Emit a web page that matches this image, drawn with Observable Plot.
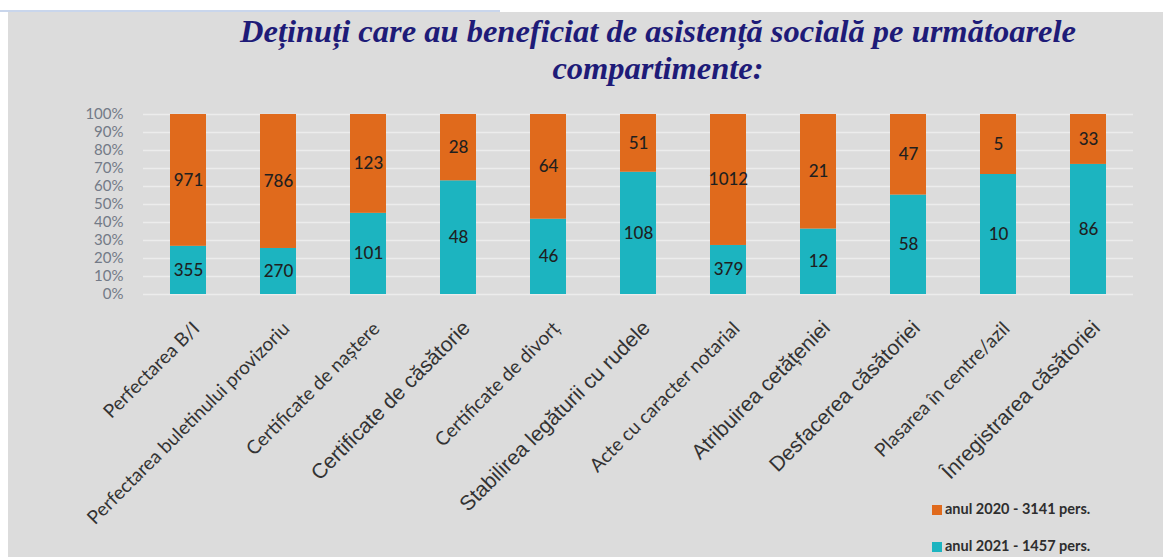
<!DOCTYPE html>
<html><head><meta charset="utf-8">
<script src="https://cdn.jsdelivr.net/npm/d3@7"></script>
<script src="https://cdn.jsdelivr.net/npm/@observablehq/plot@0.6"></script>
<style>
html,body{margin:0;padding:0;}
body{width:1163px;height:557px;overflow:hidden;position:relative;background:#fff;font-family:Lato,sans-serif;}
#topline{position:absolute;left:0;top:10px;width:500px;height:2px;background:#c9d6ec;}
#panel{position:absolute;left:8px;top:12px;width:1155px;height:545px;background:#dcdcdc;}
#title{position:absolute;left:658px;top:13px;transform:translateX(-50%);white-space:nowrap;text-align:center;
  font-family:"Liberation Serif",serif;font-weight:bold;font-style:italic;font-size:32.5px;line-height:37px;color:#1e1b78;}
#chart{position:absolute;left:0;top:100px;}
#legend{position:absolute;left:932px;top:499px;font-family:Lato,sans-serif;font-weight:bold;font-size:14.5px;color:#2e2e2e;}
.li{position:relative;height:37px;line-height:20px;}
.sw{display:inline-block;width:10px;height:10px;margin-right:3px;vertical-align:-1px;}
</style>
</head><body>
<div id="topline"></div>
<div id="panel"></div>
<div id="title">Deținuți care au beneficiat de asistență socială pe următoarele<br>compartimente:</div>
<div id="chart"></div>
<div id="legend"></div>
<script>
const categories = [
  "Perfectarea B/I",
  "Perfectarea buletinului provizoriu",
  "Certificate de naștere",
  "Certificate de căsătorie",
  "Certificate de divorț",
  "Stabilirea legăturii cu rudele",
  "Acte cu caracter notarial",
  "Atribuirea cetățeniei",
  "Desfacerea căsătoriei",
  "Plasarea în centre/azil",
  "Înregistrarea căsătoriei"
];
const values2020 = [971, 786, 123, 28, 64, 51, 1012, 21, 47, 5, 33];
const values2021 = [355, 270, 101, 48, 46, 108, 379, 12, 58, 10, 86];
const seriesNames = ["anul 2020 - 3141 pers.", "anul 2021 - 1457 pers."];
const yTicks = [0, 0.1, 0.2, 0.3, 0.4, 0.5, 0.6, 0.7, 0.8, 0.9, 1];

// labels drawn in the wider (Arial-like) typeface in the original
const wideLabelSet = new Set([
  "Certificate de căsătorie",
  "Stabilirea legăturii cu rudele",
  "Atribuirea cetățeniei",
  "Desfacerea căsătoriei",
  "Înregistrarea căsătoriei"
]);

const colors = ["#e06a1c", "#1cb4c0"];

const rows = [];
categories.forEach((c, i) => {
  rows.push({cat: c, series: seriesNames[1], value: values2021[i]});
  rows.push({cat: c, series: seriesNames[0], value: values2020[i]});
});

const stackOpts = {offset: "normalize", order: [seriesNames[1], seriesNames[0]]};

const plot = Plot.plot({
  width: 1163,
  height: 457,
  marginTop: 14,
  marginBottom: 263,
  marginLeft: 143,
  marginRight: 30,
  style: {background: "transparent", fontFamily: "Lato, sans-serif"},
  x: {domain: categories, paddingInner: 0.6, paddingOuter: 0.3, axis: null},
  y: {domain: [0, 1], axis: null},
  color: {domain: seriesNames, range: colors},
  marks: [
    Plot.ruleY(yTicks, {stroke: "#ececec", strokeWidth: 1.3}),
    Plot.axisY({ticks: yTicks, tickFormat: d3.format(".0%"), tickSize: 0, tickPadding: 20, label: null,
      fontSize: 15, fill: "#737a87", fontFamily: "Lato, sans-serif"}),
    Plot.barY(rows, Plot.stackY({...stackOpts, x: "cat", y: "value", z: "series", fill: "series"})),
    Plot.text(rows, Plot.stackY({...stackOpts, x: "cat", y: "value", z: "series", text: d => String(d.value),
      fill: "#1f1f1f", fontSize: 17, fontWeight: 500, fontFamily: "Lato, sans-serif"})),
    Plot.text(categories.filter(c => !wideLabelSet.has(c)), {x: d => d, text: d => d, frameAnchor: "bottom",
      rotate: -45, textAnchor: "end", lineAnchor: "middle", dx: 8, dy: 31,
      fontSize: 19, fill: "#333", fontFamily: "Lato, sans-serif"}),
    Plot.text(categories.filter(c => wideLabelSet.has(c)), {x: d => d, text: d => d, frameAnchor: "bottom",
      rotate: -45, textAnchor: "end", lineAnchor: "middle", dx: 8, dy: 30,
      fontSize: 21, fill: "#333", fontFamily: "Liberation Sans, Arial, sans-serif"})
  ]
});
document.getElementById("chart").appendChild(plot);

const legend = document.getElementById("legend");
seriesNames.forEach((s, i) => {
  const div = document.createElement("div");
  div.className = "li";
  const sw = document.createElement("span");
  sw.className = "sw";
  sw.style.background = colors[i];
  div.appendChild(sw);
  div.appendChild(document.createTextNode(s));
  legend.appendChild(div);
});
</script>
</body></html>
